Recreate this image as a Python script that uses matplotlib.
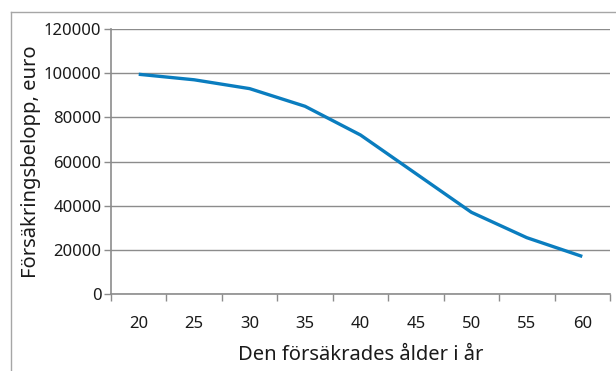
import matplotlib
matplotlib.use("Agg")
import matplotlib.pyplot as plt
from matplotlib.lines import Line2D
from matplotlib.ticker import FixedLocator, NullFormatter

plt.rcParams['font.family'] = ['Noto Sans', 'DejaVu Sans']

# insured sum by age of the insured person
ages = [20, 25, 30, 35, 40, 45, 50, 55, 60]
amounts = [99500, 97000, 93000, 85000, 72000, 54500, 37000, 25500, 17000]
y_ticks = [0, 20000, 40000, 60000, 80000, 100000, 120000]

grid_col = '#8c8c8c'
line_col = '#0a7dbf'
text_col = '#1a1a1a'

fig = plt.figure(figsize=(6.16, 3.71), dpi=100)
ax = fig.add_axes([111 / 616, 1 - 294 / 371, 499 / 616, 265 / 371])

ax.plot(ages, amounts, color=line_col, linewidth=2.4, solid_capstyle='butt', zorder=3)

ax.set_xlim(ages[0] - 2.5, ages[-1] + 2.5)
ax.set_ylim(0, 120000)

# category axis: tick marks between categories, labels at centres
step = ages[1] - ages[0]
boundaries = [a - step / 2 for a in ages] + [ages[-1] + step / 2]
ax.xaxis.set_major_locator(FixedLocator(boundaries))
ax.xaxis.set_major_formatter(NullFormatter())
ax.xaxis.set_minor_locator(FixedLocator(ages))
ax.set_xticklabels([str(a) for a in ages], minor=True)
ax.tick_params(axis='x', which='major', length=5, width=1, color=grid_col, direction='out')
ax.tick_params(axis='x', which='minor', length=0, pad=16, labelsize=12, labelcolor=text_col)

ax.set_yticks(y_ticks)
ax.set_yticklabels([str(v) for v in y_ticks])
ax.tick_params(axis='y', length=5, width=1, color=grid_col, direction='out',
               labelsize=12, labelcolor=text_col, pad=2)

ax.grid(axis='y', color=grid_col, linewidth=1)
ax.set_axisbelow(True)
for side in ['top', 'right']:
    ax.spines[side].set_visible(False)
for side in ['left', 'bottom']:
    ax.spines[side].set_color(grid_col)
    ax.spines[side].set_linewidth(1.2)

ax.set_xlabel('Den försäkrades ålder i år', fontsize=14.5, color=text_col, labelpad=9)
ax.set_ylabel('Försäkringsbelopp, euro', fontsize=14.5, color=text_col, labelpad=2)

# outer chart frame (left and top edges)
frame_col = '#a6a6a6'
fig.add_artist(Line2D([10.5 / 616, 10.5 / 616], [0, 1 - 12 / 371],
                      transform=fig.transFigure, color=frame_col, linewidth=1))
fig.add_artist(Line2D([10.5 / 616, 1], [1 - 12 / 371, 1 - 12 / 371],
                      transform=fig.transFigure, color=frame_col, linewidth=1))

fig.savefig('out.png', dpi=100, facecolor='white')
